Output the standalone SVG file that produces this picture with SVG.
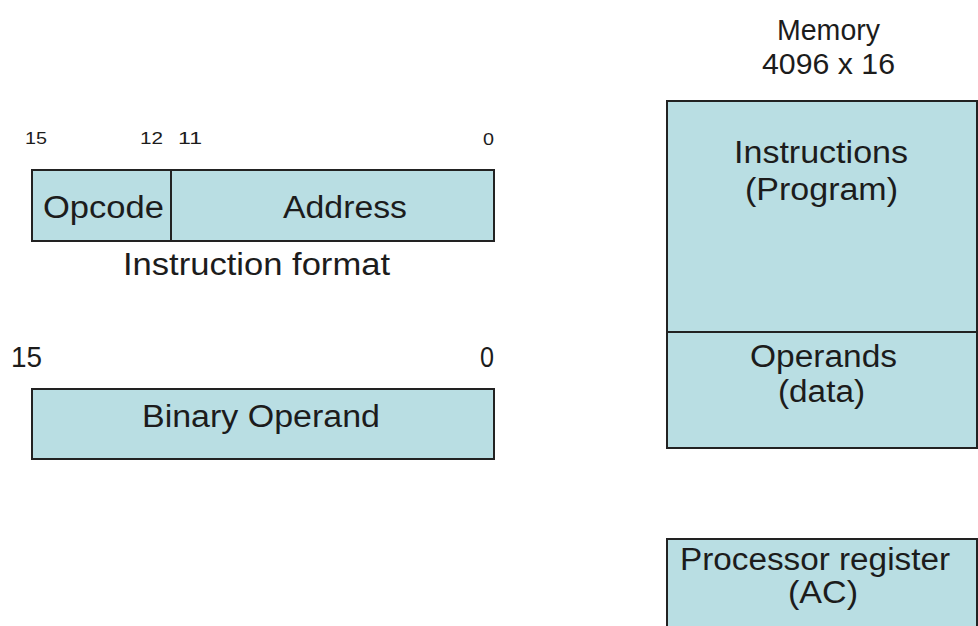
<svg xmlns="http://www.w3.org/2000/svg" width="978" height="626" viewBox="0 0 978 626">
<style>
.box{fill:#b9dee3;stroke:#222;stroke-width:2}
.ln{stroke:#222;stroke-width:2;fill:none}
text{font-family:"Liberation Sans",Arial,sans-serif;fill:#1c1c1c}
.m{font-size:31px}
.s{font-size:17px}
.n{font-size:29px}
</style>
<rect width="978" height="626" fill="#ffffff"/>
<g id="instr-format">
<text class="s" x="25" y="144" textLength="22" lengthAdjust="spacingAndGlyphs">15</text>
<text class="s" x="140" y="144" textLength="23" lengthAdjust="spacingAndGlyphs">12</text>
<text class="s" x="178" y="144" textLength="24" lengthAdjust="spacingAndGlyphs">11</text>
<text class="s" x="483" y="145" textLength="11" lengthAdjust="spacingAndGlyphs">0</text>
<rect class="box" x="32" y="170" width="462" height="71"/>
<line class="ln" x1="171" y1="170" x2="171" y2="241"/>
<text class="m" x="43" y="218" textLength="121" lengthAdjust="spacingAndGlyphs">Opcode</text>
<text class="m" x="283" y="218" textLength="124" lengthAdjust="spacingAndGlyphs">Address</text>
<text class="m" x="123" y="275" textLength="267" lengthAdjust="spacingAndGlyphs">Instruction format</text>
</g>
<g id="binary-operand">
<text class="n" x="11" y="367" textLength="31" lengthAdjust="spacingAndGlyphs">15</text>
<text class="n" x="480" y="367" textLength="14" lengthAdjust="spacingAndGlyphs">0</text>
<rect class="box" x="32" y="389" width="462" height="70"/>
<text class="m" x="142" y="427" textLength="238" lengthAdjust="spacingAndGlyphs">Binary Operand</text>
</g>
<g id="memory">
<text class="n" x="777" y="40" textLength="103" lengthAdjust="spacingAndGlyphs">Memory</text>
<text class="n" x="762" y="74" textLength="133" lengthAdjust="spacingAndGlyphs">4096 x 16</text>
<rect class="box" x="667" y="101" width="310" height="347"/>
<line class="ln" x1="667" y1="332" x2="977" y2="332"/>
<text class="m" x="734" y="163" textLength="174" lengthAdjust="spacingAndGlyphs">Instructions</text>
<text class="m" x="745" y="200" textLength="153" lengthAdjust="spacingAndGlyphs">(Program)</text>
<text class="m" x="750" y="367" textLength="147" lengthAdjust="spacingAndGlyphs">Operands</text>
<text class="m" x="778" y="402" textLength="87" lengthAdjust="spacingAndGlyphs">(data)</text>
</g>
<g id="processor-register">
<rect class="box" x="667" y="539" width="310" height="100"/>
<text class="m" x="680" y="570" textLength="270" lengthAdjust="spacingAndGlyphs">Processor register</text>
<text class="m" x="788" y="603" textLength="70" lengthAdjust="spacingAndGlyphs">(AC)</text>
</g>
<g id="connectors"/>
</svg>
